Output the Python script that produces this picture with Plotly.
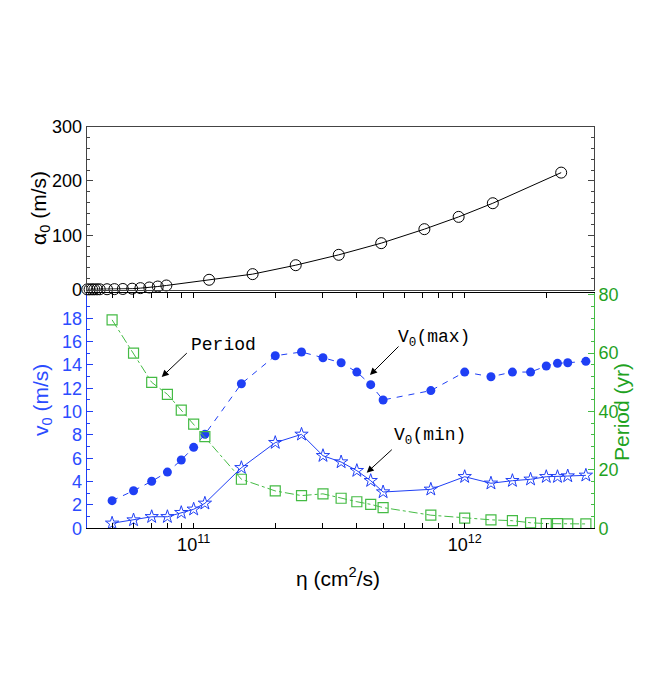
import plotly.graph_objects as go
import math

# ---- data ----
eta = [5e10, 6e10, 7e10, 8e10, 9e10, 1e11, 1.1e11, 1.5e11, 2e11, 2.5e11, 3e11, 3.5e11,
       4e11, 4.5e11, 5e11, 7.5e11, 1e12, 1.25e12, 1.5e12, 1.75e12, 2e12, 2.2e12, 2.4e12, 2.8e12]
v0_max = [2.37, 3.22, 4.03, 4.82, 5.85, 6.94, 8.05, 12.39, 14.79, 15.11, 14.62, 14.19,
          13.39, 12.31, 11.0, 11.8, 13.39, 12.99, 13.39, 13.39, 13.91, 14.14, 14.19, 14.31]
v0_min = [0.43, 0.71, 0.99, 0.99, 1.34, 1.63, 2.14, 5.19, 7.34, 8.05, 6.22, 5.68,
          4.94, 4.08, 3.11, 3.34, 4.42, 3.86, 4.08, 4.2, 4.42, 4.42, 4.48, 4.54]
period = [71.4, 60.0, 50.0, 45.9, 40.5, 35.7, 31.4, 16.8, 12.8, 11.2, 11.8, 10.3,
          9.1, 8.2, 7.1, 4.5, 3.5, 2.9, 2.6, 1.9, 1.6, 1.6, 1.5, 1.5]

eta_alpha = [4.05e10, 4.13e10, 4.22e10, 4.3e10, 4.4e10, 4.5e10, 4.79e10, 5.1e10, 5.48e10,
             5.93e10, 6.36e10, 6.86e10, 7.37e10, 7.93e10, 1.14e11, 1.65e11, 2.38e11,
             3.43e11, 4.92e11, 7.1e11, 9.5e11, 1.27e12, 2.27e12]
alpha0 = [0.2, 0.2, 0.3, 0.3, 0.3, 0.4, 0.5, 0.7, 1.0, 1.5, 2.5, 3.7, 5.5, 7.4,
          17.9, 28.3, 44.8, 63.9, 85.4, 111.2, 133.8, 159, 215.4]

x_major = [1e11, 1e12]
x_major_text = ["10<sup>11</sup>", "10<sup>12</sup>"]
x_minor = [m * 10 ** d for d in (10, 11, 12) for m in range(2, 10) if 4e10 < m * 10 ** d < 3e12]

W, H = 654, 699
OFF = 8  # page body margin
BLUE = "#1f3ff5"
BLUE_T = "#2b4cff"
GREEN = "#44bb44"
GREEN_T = "#1fa21f"
FONT = "Liberation Sans"
MONO = "Liberation Mono"

xl, xr = 86.7, 594.0
bot_top, bot_bot = 293.3, 528.3
top_top, top_bot = 126.7, 289.5

def fx(px):
    return (px - OFF) / W

def fy(py):
    return 1 - (py - OFF) / H

xdom = [fx(xl), fx(xr)]
xrange_log = [math.log10(4.03e10), math.log10(3.0e12)]

fig = go.Figure()

# top panel: alpha0
fig.add_trace(go.Scatter(x=eta_alpha, y=alpha0, xaxis="x2", yaxis="y2", mode="lines+markers",
                         line=dict(color="black", width=1),
                         marker=dict(symbol="circle-open", size=11, color="black", line=dict(width=1)),
                         cliponaxis=False, showlegend=False))

# bottom panel
fig.add_trace(go.Scatter(x=eta, y=v0_max, xaxis="x", yaxis="y", mode="lines+markers",
                         line=dict(color=BLUE, width=1, dash="6px,6px"),
                         marker=dict(symbol="circle", size=9, color=BLUE),
                         showlegend=False))
fig.add_trace(go.Scatter(x=eta, y=v0_min, xaxis="x", yaxis="y", mode="lines+markers",
                         line=dict(color=BLUE, width=1),
                         marker=dict(symbol="star-open", size=10, color=BLUE, line=dict(width=1)),
                         showlegend=False))
fig.add_trace(go.Scatter(x=eta, y=period, xaxis="x", yaxis="y3", mode="lines+markers",
                         line=dict(color=GREEN, width=1, dash="dashdot"),
                         marker=dict(symbol="square-open", size=10, color=GREEN, line=dict(width=1.2)),
                         showlegend=False))

TS = 18
tickfont = dict(family=FONT, size=TS, color="black")

fig.update_layout(
    width=W, height=H,
    margin=dict(l=0, r=0, t=0, b=0),
    paper_bgcolor="white", plot_bgcolor="white",
    font=dict(family=FONT, size=TS, color="black"),
    xaxis=dict(type="log", domain=xdom, range=xrange_log, anchor="y",
               tickvals=x_major + x_minor,
               ticktext=x_major_text + [""] * len(x_minor),
               ticks="inside", ticklen=5, tickcolor="black",
               showline=True, linecolor="black", linewidth=1, mirror="ticks",
               showgrid=False, zeroline=False, tickfont=tickfont, automargin=False),
    yaxis=dict(domain=[fy(bot_bot), fy(bot_top)], range=[0, 20.14], anchor="x",
               tickvals=list(range(0, 20, 2)), ticks="inside", ticklen=6, tickcolor=BLUE,
               minor=dict(tickvals=list(range(1, 20, 2)), ticks="inside", ticklen=3, tickcolor=BLUE),
               showline=True, linecolor=BLUE, linewidth=1,
               showgrid=False, zeroline=False, tickfont=dict(family=FONT, size=TS, color=BLUE_T),
               automargin=False),
    yaxis3=dict(overlaying="y", side="right", anchor="x", range=[0, 80.5],
                tickvals=[0, 20, 40, 60, 80], ticks="inside", ticklen=6, tickcolor=GREEN,
                minor=dict(tickvals=[v for v in range(4, 80, 4) if v % 20], ticks="inside",
                           ticklen=3, tickcolor=GREEN),
                showline=True, linecolor=GREEN, linewidth=1,
                showgrid=False, zeroline=False, tickfont=dict(family=FONT, size=TS, color=GREEN_T),
                automargin=False),
    xaxis2=dict(type="log", domain=xdom, range=xrange_log, anchor="y2",
                showticklabels=False, ticks="", showline=True, linecolor="#444", linewidth=1,
                mirror=True, showgrid=False, zeroline=False),
    yaxis2=dict(domain=[fy(top_bot), fy(top_top)], range=[0, 300], anchor="x2",
                tickvals=[0, 100, 200, 300], ticks="inside", ticklen=6, tickcolor="#444",
                minor=dict(tickvals=[v for v in range(20, 300, 20) if v % 100], ticks="inside",
                           ticklen=3, tickcolor="#444"),
                showline=True, linecolor="#444", linewidth=1, mirror="ticks",
                showgrid=False, zeroline=False, tickfont=tickfont, automargin=False),
)

LS = 21
C = dict(xref="paper", yref="paper", xanchor="center", yanchor="middle", showarrow=False)
annotations = [
    # axis titles
    dict(x=fx(40), y=fy(208), text="α<sub>0</sub> (m/s)", textangle=-90,
         font=dict(family=FONT, size=LS, color="black"), **C),
    dict(x=fx(42), y=fy(400), text="v<sub>0</sub> (m/s)", textangle=-90,
         font=dict(family=FONT, size=LS, color=BLUE_T), **C),
    dict(x=fx(621), y=fy(412), text="Period (yr)", textangle=-90,
         font=dict(family=FONT, size=LS, color=GREEN_T), **C),
    dict(x=fx(338), y=fy(577), text="η (cm<sup>2</sup>/s)",
         font=dict(family=FONT, size=LS, color="black"), **C),
    # series labels
    dict(x=fx(223), y=fy(345), text="Period",
         font=dict(family=MONO, size=18, color="black"), **C),
    dict(x=fx(434), y=fy(338), text="V<sub>0</sub>(max)",
         font=dict(family=MONO, size=18, color="black"), **C),
    dict(x=fx(430), y=fy(436), text="V<sub>0</sub>(min)",
         font=dict(family=MONO, size=18, color="black"), **C),
]
arrows = [((188.3, 351.7), (161.7, 377.0)),
          ((400.0, 345.0), (370.0, 375.0)),
          ((393.3, 448.3), (366.7, 472.7))]
for (tx, ty), (hx, hy) in arrows:
    annotations.append(dict(x=fx(hx), y=fy(hy), xref="paper", yref="paper", text="",
                            showarrow=True, arrowhead=2, arrowsize=1.4, arrowwidth=1,
                            arrowcolor="black", ax=tx - hx, ay=ty - hy, standoff=0))
fig.update_layout(annotations=annotations)

fig.write_html("out.html")
